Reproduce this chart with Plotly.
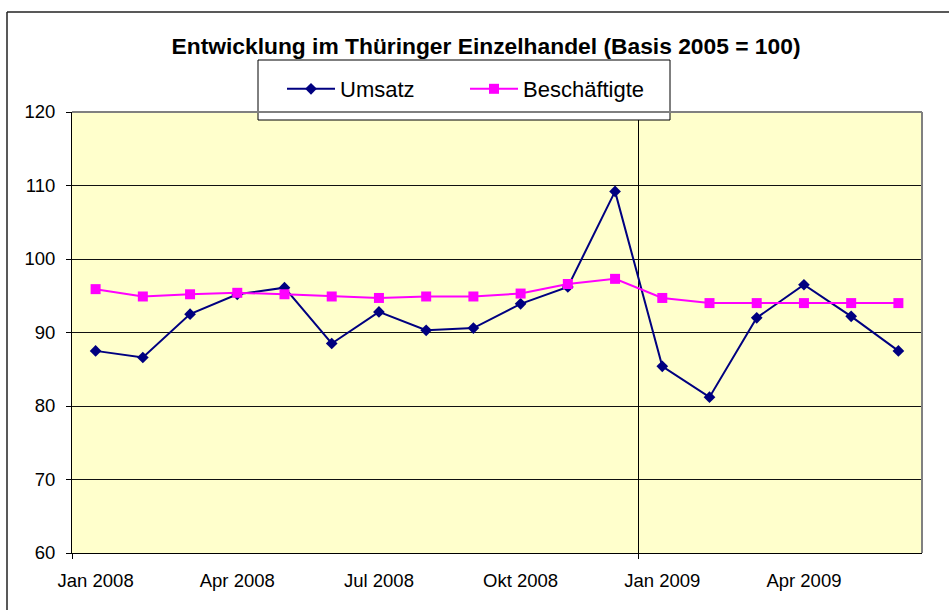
import plotly.graph_objects as go

# ---- data ----
months = ["Jan 2008", "Feb 2008", "Mär 2008", "Apr 2008", "Mai 2008", "Jun 2008",
          "Jul 2008", "Aug 2008", "Sep 2008", "Okt 2008", "Nov 2008", "Dez 2008",
          "Jan 2009", "Feb 2009", "Mär 2009", "Apr 2009", "Mai 2009", "Jun 2009"]
umsatz = [87.5, 86.6, 92.5, 95.2, 96.1, 88.5, 92.8, 90.3, 90.6, 93.9, 96.2, 109.2,
          85.4, 81.2, 92.0, 96.5, 92.2, 87.5]
beschaeftigte = [95.9, 94.9, 95.2, 95.4, 95.2, 94.9, 94.7, 94.9, 94.9, 95.3, 96.6, 97.3,
                 94.7, 94.0, 94.0, 94.0, 94.0, 94.0]
tick_labels = ["Jan 2008", "Apr 2008", "Jul 2008", "Okt 2008", "Jan 2009", "Apr 2009"]
title = "Entwicklung im Thüringer Einzelhandel (Basis 2005 = 100)"

# ---- layout geometry (pixels) ----
W, H = 949, 610
L, R, T, B = 72, 922, 112, 553
pw, ph = R - L, B - T


def px(x):
    return (x - L) / pw


def py(y):
    return (B - y) / ph


idx = list(range(len(months)))
tick_idx = [months.index(t) for t in tick_labels]
sep_idx = [-0.5, months.index("Jan 2009") - 0.5]

FONT = "Arial, Liberation Sans, sans-serif"

fig = go.Figure()
fig.add_trace(go.Scatter(
    x=idx, y=umsatz, name="Umsatz", mode="lines+markers",
    line=dict(color="#000080", width=2),
    marker=dict(symbol="diamond", size=9, color="#000080"),
))
fig.add_trace(go.Scatter(
    x=idx, y=beschaeftigte, name="Beschäftigte", mode="lines+markers",
    line=dict(color="#FF00FF", width=2),
    marker=dict(symbol="square", size=10, color="#FF00FF"),
))
# helper trace for the separator axis
fig.add_trace(go.Scatter(
    x=idx, y=umsatz, xaxis="x2", mode="lines", line=dict(width=0, color="rgba(0,0,0,0)"),
    showlegend=False, hoverinfo="skip",
))

shapes = [
    # legend box
    dict(type="rect", xref="paper", yref="paper", x0=px(258), x1=px(670), y0=py(120), y1=py(60),
         line=dict(color="black", width=1), fillcolor="white", layer="above"),
    # plot area border top/right (grey)
    dict(type="line", xref="paper", yref="paper", x0=0, x1=1, y0=1, y1=1,
         line=dict(color="#808080", width=2), layer="above"),
    dict(type="line", xref="paper", yref="paper", x0=1, x1=1, y0=0, y1=1,
         line=dict(color="#808080", width=2), layer="above"),
    # outer chart border (left/top)
    dict(type="line", xref="paper", yref="paper", x0=px(7), x1=px(7), y0=py(612), y1=py(12),
         line=dict(color="#222222", width=1.5)),
    dict(type="line", xref="paper", yref="paper", x0=px(7), x1=px(951), y0=py(12), y1=py(12),
         line=dict(color="#222222", width=1.5)),
]

fig.update_layout(
    width=W, height=H,
    margin=dict(l=L, r=W - R, t=T, b=H - B, autoexpand=False),
    paper_bgcolor="white",
    plot_bgcolor="#FFFFCC",
    font=dict(family=FONT, color="black", size=18),
    title=dict(text="<b>" + title + "</b>", x=486 / W, xanchor="center",
               y=1 - 46 / H, yanchor="middle", yref="container",
               font=dict(family=FONT, size=22.8, color="black")),
    showlegend=True,
    legend=dict(orientation="h", x=px(282), y=py(89), xanchor="left", yanchor="middle",
                bgcolor="rgba(0,0,0,0)", borderwidth=0, itemwidth=48,
                font=dict(family=FONT, size=22, color="black"),
                entrywidth=120, entrywidthmode="pixels", traceorder="normal"),
    xaxis=dict(range=[-0.5, len(months) - 0.5], tickmode="array", tickvals=tick_idx,
               ticktext=tick_labels, ticks="", showgrid=False, zeroline=False,
               showline=True, linecolor="black", linewidth=1,
               tickfont=dict(size=18.5), ticklabelstandoff=11, fixedrange=True),
    xaxis2=dict(overlaying="x", anchor="y", side="bottom", range=[-0.5, len(months) - 0.5],
                tickmode="array", tickvals=sep_idx, ticks="outside", ticklen=5,
                tickcolor="black", showticklabels=False, showgrid=True,
                gridcolor="black", gridwidth=1, zeroline=False, showline=False),
    yaxis=dict(range=[60, 120], dtick=10, ticks="outside", ticklen=5, tickcolor="black",
               showgrid=True, gridcolor="#111111", gridwidth=1, zeroline=False,
               showline=True, linecolor="black", linewidth=1,
               tickfont=dict(size=18.5), ticklabelstandoff=7),
    shapes=shapes,
)

fig.write_html("out.html", config={"displayModeBar": False},
               post_script="document.body.style.margin='0';document.body.style.overflow='hidden';")
